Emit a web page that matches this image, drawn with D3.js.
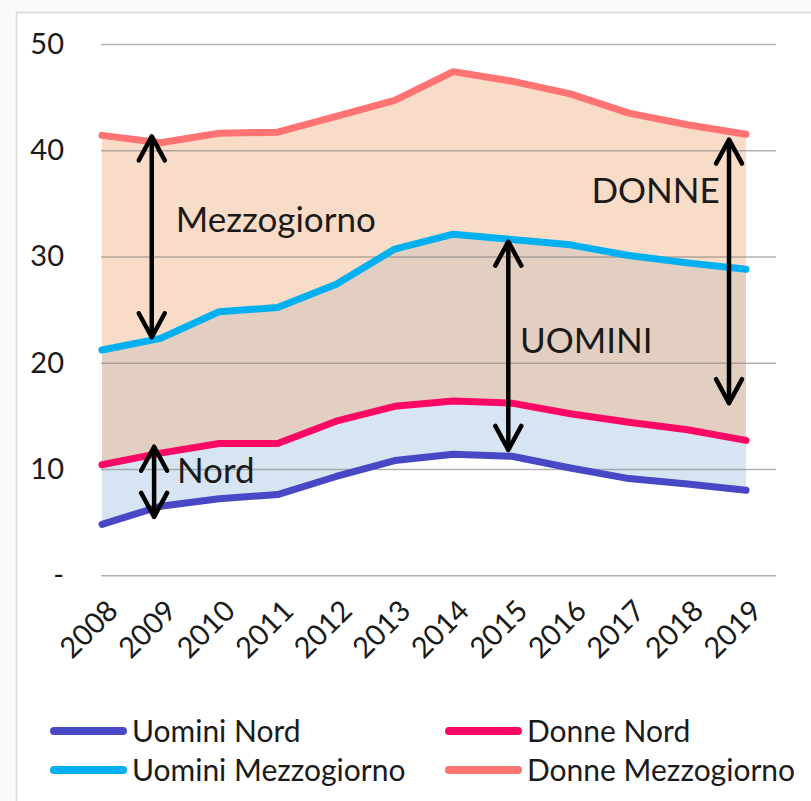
<!DOCTYPE html>
<html>
<head>
<meta charset="utf-8">
<script src="https://cdn.jsdelivr.net/npm/d3@7"></script>
<style>
	html, body { margin: 0; padding: 0; background: #fcfaf8; }
	svg { display: block; }
	text { font-family: Lato, "Open Sans", sans-serif; fill: #1a1a1a; }
</style>
</head>
<body>
<svg class="viz" width="811" height="801"></svg>
<script>
// *** Chart data ***
const years = [2008, 2009, 2010, 2011, 2012, 2013, 2014, 2015, 2016, 2017, 2018, 2019];
const uominiNord  = [4.8, 6.5, 7.2, 7.6, 9.3, 10.8, 11.4, 11.2, 10.1, 9.1, 8.6, 8.0];
const donneNord   = [10.4, 11.5, 12.4, 12.4, 14.5, 15.9, 16.4, 16.2, 15.2, 14.4, 13.7, 12.7];
const uominiMezz  = [21.2, 22.3, 24.8, 25.2, 27.4, 30.7, 32.1, 31.6, 31.1, 30.1, 29.4, 28.8];
const donneMezz   = [41.4, 40.7, 41.6, 41.7, 43.2, 44.7, 47.4, 46.5, 45.3, 43.5, 42.4, 41.5];
const yTicks      = [0, 10, 20, 30, 40, 50];
const yTickLabels = ["-", "10", "20", "30", "40", "50"];
const seriesNames = ["Uomini Nord", "Donne Nord", "Uomini Mezzogiorno", "Donne Mezzogiorno"];

// annotation arrows (x in years, y in values) and their labels
const arrows = [
	{ x: 2008.85, y1: 41.3, y2: 22.4 },
	{ x: 2008.89, y1: 12.1, y2: 5.5 },
	{ x: 2014.94, y1: 31.4, y2: 11.8 },
	{ x: 2018.71, y1: 41.0, y2: 16.2 }
];
const notes = [
	{ text: "Mezzogiorno", x: 2009.26, y: 32.3 },
	{ text: "Nord", x: 2009.28, y: 8.7 },
	{ text: "UOMINI", x: 2015.14, y: 20.9 },
	{ text: "DONNE", x: 2016.36, y: 35.0 }
];

const colors = ["#4848c6", "#fe0865", "#00b0f0", "#ff7373"];

function render() {
	let grph = d3.select(".viz");

	// frame of the chart
	grph.append("rect")
		.attr("x", 16.5).attr("y", 12.5)
		.attr("width", 820).attr("height", 820)
		.attr("fill", "#ffffff")
		.attr("stroke", "#d9d9d9").attr("stroke-width", 1.5);

	const plotL = 101, plotR = 776;
	let x = d3.scaleLinear().domain([2008, 2019]).range([102, 746]);
	let y = d3.scaleLinear().domain([0, 50]).range([575.3, 44]);

	let data = years.map((yr, i) => ({
		year: yr, un: uominiNord[i], dn: donneNord[i], um: uominiMezz[i], dm: donneMezz[i]
	}));

	// *** filled bands ***
	const bands = [
		{ top: "dm", bot: "um", fill: "#f9dcc7" },
		{ top: "um", bot: "dn", fill: "#e2cfc1" },
		{ top: "dn", bot: "un", fill: "#d7e5f3" }
	];
	bands.forEach((b) => {
		grph.append("path")
			.attr("fill", b.fill)
			.attr("d", d3.area()
				.x((d) => x(d.year))
				.y0((d) => y(d[b.bot]))
				.y1((d) => y(d[b.top]))(data));
	});

	// *** gridlines + y labels ***
	let axisy = grph.append("g").attr("class", "axisy")
		.attr("transform", "translate(" + plotL + ", 0)")
		.call(d3.axisLeft(y).tickValues(yTicks)
			.tickSize(-(plotR - plotL)).tickPadding(37)
			.tickFormat((d, i) => yTickLabels[i]));
	axisy.select(".domain").remove();
	axisy.selectAll("line")
		.attr("stroke", "#7f7f7f").attr("stroke-opacity", 0.6).attr("stroke-width", 1.5);
	axisy.selectAll("text")
		.attr("font-size", 29).attr("fill", "#1a1a1a")
		.style("font-family", "Lato, sans-serif");

	// *** x labels ***
	let axisx = grph.append("g").attr("class", "axisx")
		.attr("transform", "translate(0, " + y(0) + ")")
		.call(d3.axisBottom(x).tickValues(years).tickFormat(d3.format("d")).tickSize(0));
	axisx.select(".domain").remove();
	axisx.selectAll("text")
		.attr("font-size", 29).attr("fill", "#1a1a1a")
		.style("font-family", "Lato, sans-serif")
		.attr("y", 0).attr("dy", "0.35em")
		.attr("transform", "translate(10, 30)rotate(-45)")
		.style("text-anchor", "end");

	// *** series lines ***
	const keys = ["un", "dn", "um", "dm"];
	keys.forEach((k, i) => {
		grph.append("path")
			.attr("fill", "none")
			.attr("stroke", colors[i])
			.attr("stroke-width", 7)
			.attr("stroke-linejoin", "round")
			.attr("stroke-linecap", "round")
			.attr("d", d3.line().x((d) => x(d.year)).y((d) => y(d[k]))(data));
	});

	// *** annotations ***
	arrows.forEach((a) => {
		let ax = x(a.x), ya = y(a.y1), yb = y(a.y2);
		let g = grph.append("g")
			.attr("fill", "none").attr("stroke", "#000")
			.attr("stroke-width", 4.5).attr("stroke-linecap", "round").attr("stroke-linejoin", "round");
		g.append("line").attr("x1", ax).attr("x2", ax).attr("y1", ya + 2).attr("y2", yb - 2);
		g.append("path").attr("d", "M" + (ax - 13) + "," + (ya + 24) + "L" + ax + "," + ya + "L" + (ax + 13) + "," + (ya + 24));
		g.append("path").attr("d", "M" + (ax - 13) + "," + (yb - 24) + "L" + ax + "," + yb + "L" + (ax + 13) + "," + (yb - 24));
	});
	grph.selectAll(".note").data(notes).enter().append("text")
		.attr("class", "note")
		.attr("x", (d) => x(d.x)).attr("y", (d) => y(d.y))
		.attr("font-size", 35)
		.text((d) => d.text);

	// *** legend ***
	const legPos = [[50, 731], [445, 731], [50, 770], [445, 770]];
	seriesNames.forEach((name, i) => {
		let lg = grph.append("g").attr("transform", "translate(" + legPos[i][0] + "," + legPos[i][1] + ")");
		lg.append("line").attr("x1", 4).attr("x2", 73).attr("y1", 0).attr("y2", 0)
			.attr("stroke", colors[i]).attr("stroke-width", 8).attr("stroke-linecap", "round");
		lg.append("text").attr("x", 82).attr("y", 0).attr("dy", "0.35em")
			.attr("font-size", 30).text(name);
	});
}

render();
</script>
</body>
</html>
